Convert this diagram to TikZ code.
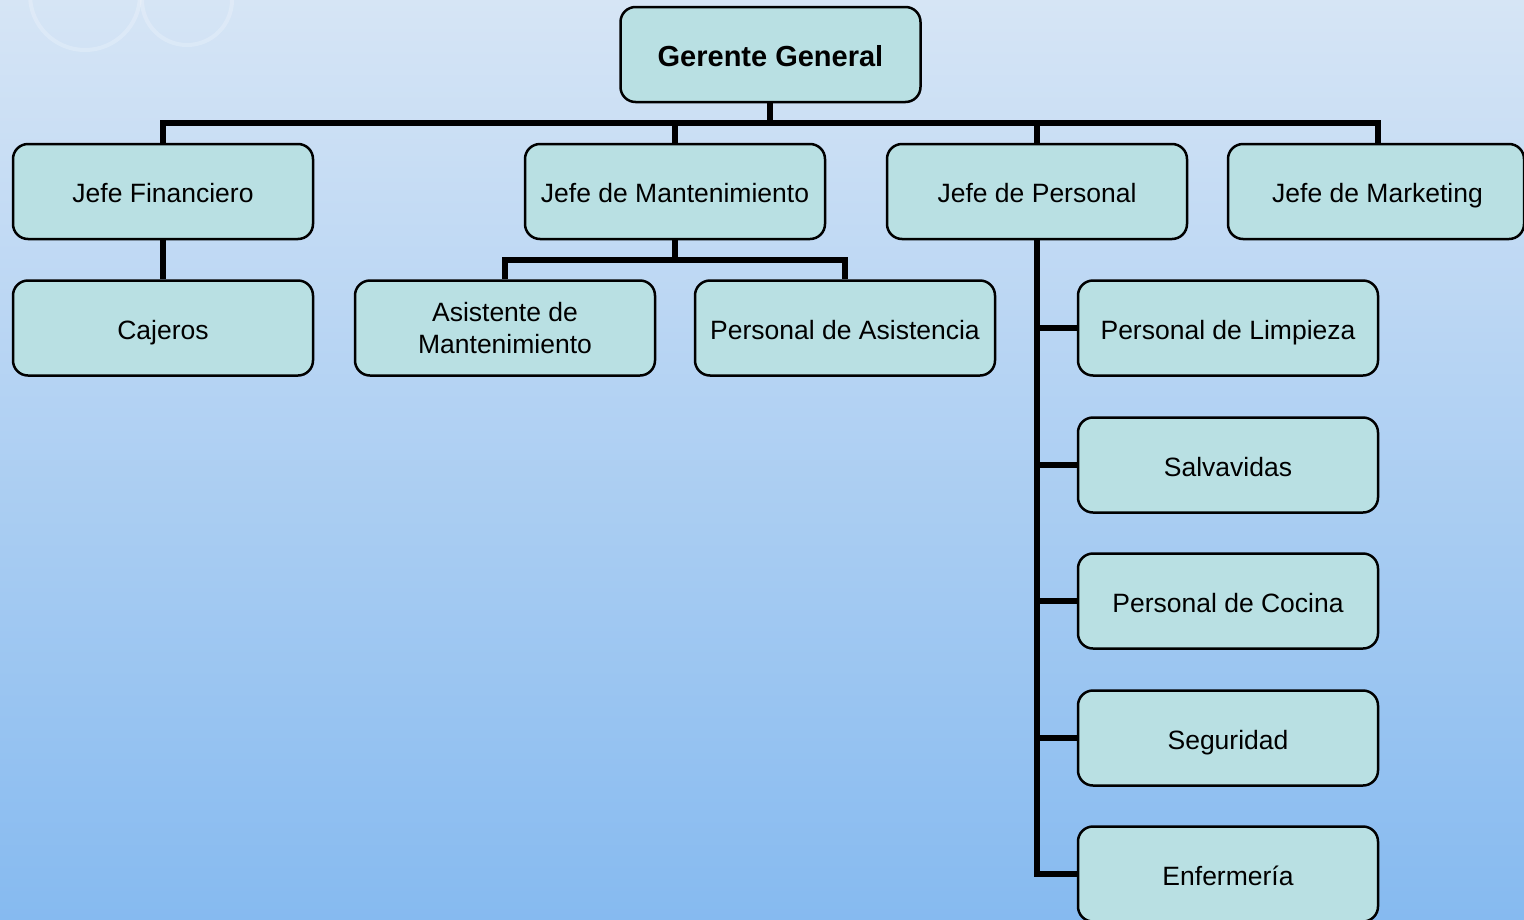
\documentclass[tikz,border=0pt]{standalone}
\usepackage{fontspec}
\setmainfont{Liberation Sans}
\definecolor{boxfill}{HTML}{B9E0E3}
\definecolor{bgtop}{HTML}{D6E5F5}
\definecolor{bgmid}{HTML}{BCD6F5}
\definecolor{bgbot}{HTML}{86BAF0}
\tikzset{
  orgbox/.style={draw=black, line width=2.5pt, fill=boxfill, rounded corners=15pt,
    minimum width=300pt, minimum height=95pt, inner sep=0pt, align=center,
    font=\fontsize{26.5}{32}\selectfont},
  oneline/.style={text height=22pt, text depth=0pt},
  link/.style={draw=black, line width=6pt},
}
\begin{document}
\begin{tikzpicture}[x=1pt,y=-1pt]
\shade[top color=bgtop, middle color=bgmid, bottom color=bgbot] (0,0) rectangle (1524,919);
\useasboundingbox (0,0) rectangle (1524,919);
\draw[white, opacity=0.22, line width=4pt] (85,-5) circle (55pt);
\draw[white, opacity=0.22, line width=4pt] (187,0) circle (45pt);

\coordinate (bus1) at (770,123);
\coordinate (bus2) at (675,260);
\coordinate (mk) at (1378,123);

% connectors
\draw[link] (770,102) -- (bus1);
\draw[link, line cap=rect] (163,123) -- (mk);
\draw[link] (163,123) -- (163,144);
\draw[link] (675,123) -- (675,144);
\draw[link] (1037,123) -- (1037,144);
\draw[link] (mk) -- (1378,144);

% level 1
\node[orgbox, text height=24pt, text depth=0pt, font=\fontsize{29}{34}\selectfont\bfseries] (gg) at (770.5,54.5) {Gerente General};
% level 2
\node[orgbox, oneline] (jf) at (163,191.5) {Jefe Financiero};
\node[orgbox, oneline] (jm) at (675,191.5) {Jefe de Mantenimiento};
\node[orgbox, oneline] (jp) at (1037,191.5) {Jefe de Personal};
\node[orgbox, oneline, minimum width=296pt] (jk) at (1376,191.5) {\hspace*{3pt}Jefe de Marketing};
% level 3
\node[orgbox, oneline] (caj) at (163,328) {Cajeros};
\node[orgbox] (asm) at (505,328) {Asistente de\\Mantenimiento};
\node[orgbox, oneline] (pas) at (845,328) {Personal de Asistencia};
\node[orgbox, oneline] (pl) at (1228,328) {Personal de Limpieza};
\node[orgbox, oneline] (sal) at (1228,465) {Salvavidas};
\node[orgbox, oneline] (pc) at (1228,601) {Personal de Cocina};
\node[orgbox, oneline] (seg) at (1228,738) {Seguridad};
\node[orgbox, oneline] (enf) at (1228,874) {Enfermería};

\draw[link] (jf.south) -- (caj.north);
\draw[link] (jm.south) -- (bus2);
\draw[link, line cap=rect] (asm.north |- bus2) -- (pas.north |- bus2);
\draw[link] (asm.north |- bus2) -- (asm.north);
\draw[link] (pas.north |- bus2) -- (pas.north);
\draw[link] (jp.south) -- (jp.south |- enf.west) -- (enf.west);
\draw[link] (jp.south |- pl.west) -- (pl.west);
\draw[link] (jp.south |- sal.west) -- (sal.west);
\draw[link] (jp.south |- pc.west) -- (pc.west);
\draw[link] (jp.south |- seg.west) -- (seg.west);
\end{tikzpicture}
\end{document}
